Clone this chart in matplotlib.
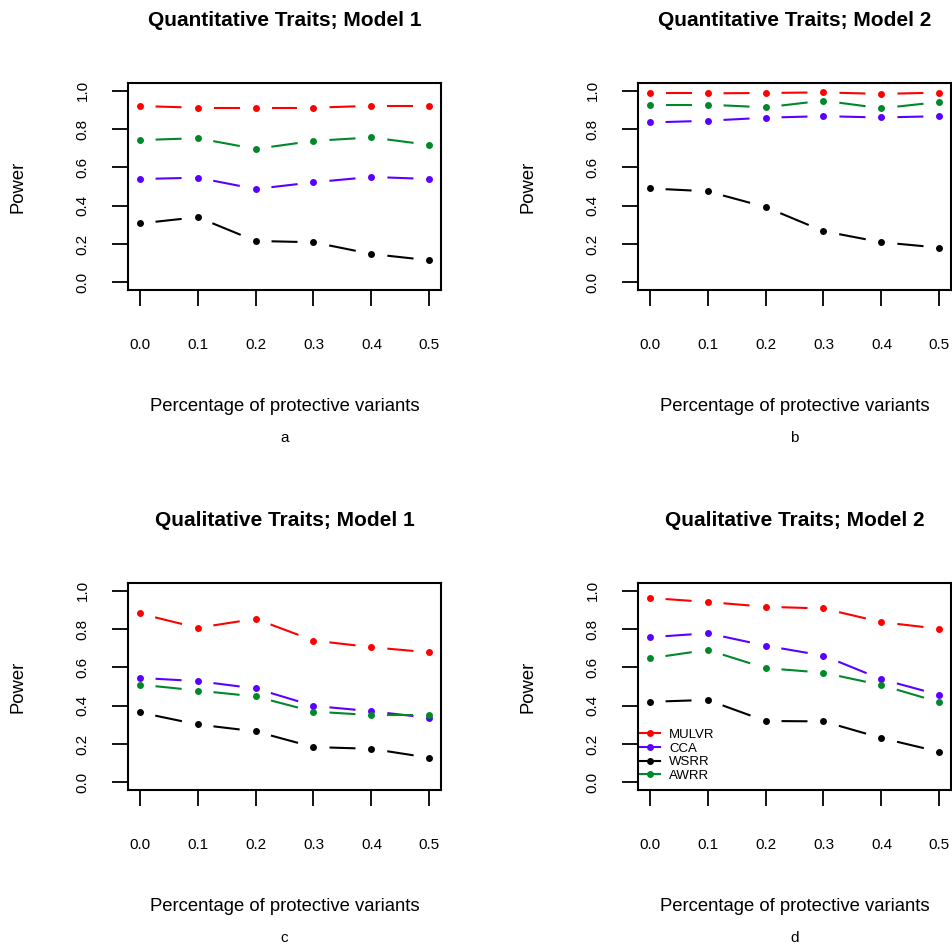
import matplotlib
matplotlib.use("Agg")
import matplotlib.pyplot as plt
import numpy as np

plt.rcParams["font.family"] = ["Liberation Sans", "DejaVu Sans"]

# dados
proporcao = [0.0, 0.1, 0.2, 0.3, 0.4, 0.5]
metodos = ["MULVR", "CCA", "WSRR", "AWRR"]

titulos = [
    "Quantitative Traits; Model 1",
    "Quantitative Traits; Model 2",
    "Qualitative Traits; Model 1",
    "Qualitative Traits; Model 2",
]
letras = ["a", "b", "c", "d"]

# painel a
quant_m1_mulvr = [0.920, 0.911, 0.911, 0.911, 0.921, 0.921]
quant_m1_cca = [0.539, 0.546, 0.487, 0.522, 0.550, 0.539]
quant_m1_wsrr = [0.307, 0.340, 0.216, 0.209, 0.148, 0.115]
quant_m1_awrr = [0.742, 0.752, 0.696, 0.738, 0.756, 0.717]

# painel b
quant_m2_mulvr = [0.986, 0.986, 0.988, 0.991, 0.983, 0.990]
quant_m2_cca = [0.834, 0.843, 0.859, 0.867, 0.860, 0.867]
quant_m2_wsrr = [0.490, 0.475, 0.393, 0.267, 0.209, 0.181]
quant_m2_awrr = [0.927, 0.927, 0.913, 0.948, 0.908, 0.941]

# painel c
qual_m1_mulvr = [0.881, 0.806, 0.853, 0.740, 0.705, 0.678]
qual_m1_cca = [0.545, 0.528, 0.490, 0.399, 0.371, 0.336]
qual_m1_wsrr = [0.365, 0.302, 0.266, 0.184, 0.175, 0.128]
qual_m1_awrr = [0.510, 0.479, 0.448, 0.369, 0.351, 0.351]

# painel d
qual_m2_mulvr = [0.962, 0.941, 0.916, 0.907, 0.836, 0.801]
qual_m2_cca = [0.757, 0.778, 0.713, 0.661, 0.538, 0.456]
qual_m2_wsrr = [0.420, 0.430, 0.320, 0.318, 0.231, 0.159]
qual_m2_awrr = [0.647, 0.691, 0.596, 0.572, 0.507, 0.418]

paineis = [
    [quant_m1_mulvr, quant_m1_cca, quant_m1_wsrr, quant_m1_awrr],
    [quant_m2_mulvr, quant_m2_cca, quant_m2_wsrr, quant_m2_awrr],
    [qual_m1_mulvr, qual_m1_cca, qual_m1_wsrr, qual_m1_awrr],
    [qual_m2_mulvr, qual_m2_cca, qual_m2_wsrr, qual_m2_awrr],
]

cores = ["#FF0000", "#5A00FF", "#000000", "#00882A"]

W, H = 952, 947
fig = plt.figure(figsize=(W / 100, H / 100), dpi=100)

# caixas dos paineis em pixels (esquerda, topo)
larg, alt = 313, 207
cantos = [(128, 83), (638, 83), (128, 583), (638, 583)]

GAP = 16  # pixels de folga em volta de cada ponto (estilo type="b" do R)


def linhas_com_folga(ax, x, y, cor):
    """desenha segmentos encurtados entre os pontos, como o type='b' do R"""
    pts = ax.transData.transform(np.column_stack([x, y]))
    inv = ax.transData.inverted()
    for p0, p1 in zip(pts[:-1], pts[1:]):
        d = p1 - p0
        n = np.hypot(*d)
        if n <= 2 * GAP:
            continue
        u = d / n
        a = inv.transform(p0 + u * GAP)
        b = inv.transform(p1 - u * GAP)
        ax.plot([a[0], b[0]], [a[1], b[1]], color=cor, lw=1.5,
                solid_capstyle="butt")


for k, (esq, topo) in enumerate(cantos):
    ax = fig.add_axes([esq / W, (H - topo - alt) / H, larg / W, alt / H])
    ax.set_xlim(-0.02, 0.52)
    ax.set_ylim(-0.04, 1.04)

    for serie, cor, nome in zip(paineis[k], cores, metodos):
        linhas_com_folga(ax, proporcao, serie, cor)
        ax.plot(proporcao, serie, "o", color=cor, ms=5, mec="none")

    for s in ax.spines.values():
        s.set_linewidth(1.5)

    ax.set_xticks(proporcao)
    ax.set_xticklabels([f"{v:.1f}" for v in proporcao])
    ax.set_yticks([0.0, 0.2, 0.4, 0.6, 0.8, 1.0])
    ax.set_yticklabels(["0.0", "0.2", "0.4", "0.6", "0.8", "1.0"])
    ax.tick_params(axis="both", direction="out", length=11.5, width=1.3,
                   labelsize=11)
    ax.tick_params(axis="x", pad=23)
    ax.tick_params(axis="y", pad=16, labelrotation=90)
    for t in ax.get_yticklabels():
        t.set_va("center")

    # titulo, rotulos e letra do painel
    ax.text(0.5, 1 + 62 / alt, titulos[k], transform=ax.transAxes,
            ha="center", va="center", fontsize=15, fontweight="bold")
    ax.text(0.5, -116 / alt, "Percentage of protective variants",
            transform=ax.transAxes, ha="center", va="center", fontsize=13.3)
    ax.text(0.5, -148 / alt, letras[k], transform=ax.transAxes,
            ha="center", va="center", fontsize=11)
    ax.text(-110 / larg, 0.5, "Power", transform=ax.transAxes,
            ha="center", va="center", rotation=90, fontsize=13.3)

    if k == 3:
        handles = [
            plt.Line2D([], [], color=c, lw=1.5, marker="o", ms=5, mec="none")
            for c in cores
        ]
        ax.legend(handles, metodos, loc="lower left", frameon=False,
                  fontsize=9.5, handlelength=1.5, handletextpad=0.7,
                  labelspacing=0.1, borderaxespad=0, borderpad=0,
                  bbox_to_anchor=(2 / larg, 0.04))

fig.savefig("out.png", dpi=100)
